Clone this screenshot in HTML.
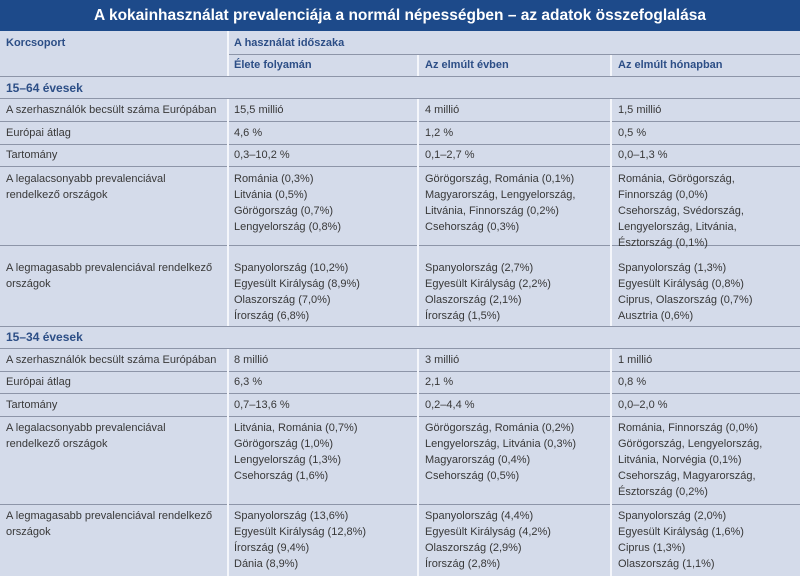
<!DOCTYPE html>
<html><head><meta charset="utf-8"><style>
body{margin:0;width:800px;height:576px;overflow:hidden;background:#d4dbea;font-family:"Liberation Sans",sans-serif;position:relative}
.t{position:absolute;left:0;top:0;width:800px;height:31px;background:#1d4a8a;color:#fff;font-weight:bold;font-size:15.5px;text-align:center;line-height:31px}
.h{position:absolute;left:0;width:800px;height:1px;background:#8d95a8}
.v{position:absolute;width:2px;background:#f4f6fb}
.c{position:absolute;font-size:11px;line-height:16px;color:#383838;white-space:nowrap}
.b{font-weight:bold;color:#2c4e86}
</style></head><body>
<div class="t">A kokainhasználat prevalenciája a normál népességben – az adatok összefoglalása</div>
<div class="h" style="top:54px;left:228px;width:572px"></div>
<div class="h" style="top:76px"></div><div class="h" style="top:98px"></div>
<div class="h" style="top:121px"></div><div class="h" style="top:144px"></div><div class="h" style="top:166px"></div>
<div class="h" style="top:245px"></div><div class="h" style="top:326px"></div><div class="h" style="top:348px"></div>
<div class="h" style="top:371px"></div><div class="h" style="top:393px"></div><div class="h" style="top:416px"></div><div class="h" style="top:504px"></div>
<div class="v" style="left:227px;top:31px;height:45px"></div>
<div class="v" style="left:417px;top:55px;height:21px"></div>
<div class="v" style="left:610px;top:55px;height:21px"></div>
<div class="v" style="left:227px;top:99px;height:227px"></div>
<div class="v" style="left:417px;top:99px;height:227px"></div>
<div class="v" style="left:610px;top:99px;height:227px"></div>
<div class="v" style="left:227px;top:349px;height:227px"></div>
<div class="v" style="left:417px;top:349px;height:227px"></div>
<div class="v" style="left:610px;top:349px;height:227px"></div>

<div class="c b" style="left:6px;top:35px">Korcsoport</div>
<div class="c b" style="left:234px;top:35px">A használat időszaka</div>
<div class="c b" style="left:234px;top:57px">Élete folyamán</div>
<div class="c b" style="left:425px;top:57px">Az elmúlt évben</div>
<div class="c b" style="left:618px;top:57px">Az elmúlt hónapban</div>

<div class="c b" style="left:6px;top:80px;font-size:12px">15–64 évesek</div>
<div class="c" style="left:6px;top:102px">A szerhasználók becsült száma Európában</div>
<div class="c" style="left:234px;top:102px">15,5 millió</div>
<div class="c" style="left:425px;top:102px">4 millió</div>
<div class="c" style="left:618px;top:102px">1,5 millió</div>
<div class="c" style="left:6px;top:125px">Európai átlag</div>
<div class="c" style="left:234px;top:125px">4,6 %</div>
<div class="c" style="left:425px;top:125px">1,2 %</div>
<div class="c" style="left:618px;top:125px">0,5 %</div>
<div class="c" style="left:6px;top:147px">Tartomány</div>
<div class="c" style="left:234px;top:147px">0,3–10,2 %</div>
<div class="c" style="left:425px;top:147px">0,1–2,7 %</div>
<div class="c" style="left:618px;top:147px">0,0–1,3 %</div>
<div class="c" style="left:6px;top:171px">A legalacsonyabb prevalenciával<br>rendelkező országok</div>
<div class="c" style="left:234px;top:171px">Románia (0,3%)<br>Litvánia (0,5%)<br>Görögország (0,7%)<br>Lengyelország (0,8%)</div>
<div class="c" style="left:425px;top:171px">Görögország, Románia (0,1%)<br>Magyarország, Lengyelország,<br>Litvánia, Finnország (0,2%)<br>Csehország (0,3%)</div>
<div class="c" style="left:618px;top:171px">Románia, Görögország,<br>Finnország (0,0%)<br>Csehország, Svédország,<br>Lengyelország, Litvánia,<br>Észtország (0,1%)</div>
<div class="c" style="left:6px;top:260px">A legmagasabb prevalenciával rendelkező<br>országok</div>
<div class="c" style="left:234px;top:260px">Spanyolország (10,2%)<br>Egyesült Királyság (8,9%)<br>Olaszország (7,0%)<br>Írország (6,8%)</div>
<div class="c" style="left:425px;top:260px">Spanyolország (2,7%)<br>Egyesült Királyság (2,2%)<br>Olaszország (2,1%)<br>Írország (1,5%)</div>
<div class="c" style="left:618px;top:260px">Spanyolország (1,3%)<br>Egyesült Királyság (0,8%)<br>Ciprus, Olaszország (0,7%)<br>Ausztria (0,6%)</div>

<div class="c b" style="left:6px;top:329px;font-size:12px">15–34 évesek</div>
<div class="c" style="left:6px;top:352px">A szerhasználók becsült száma Európában</div>
<div class="c" style="left:234px;top:352px">8 millió</div>
<div class="c" style="left:425px;top:352px">3 millió</div>
<div class="c" style="left:618px;top:352px">1 millió</div>
<div class="c" style="left:6px;top:374px">Európai átlag</div>
<div class="c" style="left:234px;top:374px">6,3 %</div>
<div class="c" style="left:425px;top:374px">2,1 %</div>
<div class="c" style="left:618px;top:374px">0,8 %</div>
<div class="c" style="left:6px;top:397px">Tartomány</div>
<div class="c" style="left:234px;top:397px">0,7–13,6 %</div>
<div class="c" style="left:425px;top:397px">0,2–4,4 %</div>
<div class="c" style="left:618px;top:397px">0,0–2,0 %</div>
<div class="c" style="left:6px;top:420px">A legalacsonyabb prevalenciával<br>rendelkező országok</div>
<div class="c" style="left:234px;top:420px">Litvánia, Románia (0,7%)<br>Görögország (1,0%)<br>Lengyelország (1,3%)<br>Csehország (1,6%)</div>
<div class="c" style="left:425px;top:420px">Görögország, Románia (0,2%)<br>Lengyelország, Litvánia (0,3%)<br>Magyarország (0,4%)<br>Csehország (0,5%)</div>
<div class="c" style="left:618px;top:420px">Románia, Finnország (0,0%)<br>Görögország, Lengyelország,<br>Litvánia, Norvégia (0,1%)<br>Csehország, Magyarország,<br>Észtország (0,2%)</div>
<div class="c" style="left:6px;top:508px">A legmagasabb prevalenciával rendelkező<br>országok</div>
<div class="c" style="left:234px;top:508px">Spanyolország (13,6%)<br>Egyesült Királyság (12,8%)<br>Írország (9,4%)<br>Dánia (8,9%)</div>
<div class="c" style="left:425px;top:508px">Spanyolország (4,4%)<br>Egyesült Királyság (4,2%)<br>Olaszország (2,9%)<br>Írország (2,8%)</div>
<div class="c" style="left:618px;top:508px">Spanyolország (2,0%)<br>Egyesült Királyság (1,6%)<br>Ciprus (1,3%)<br>Olaszország (1,1%)</div>
</body></html>
